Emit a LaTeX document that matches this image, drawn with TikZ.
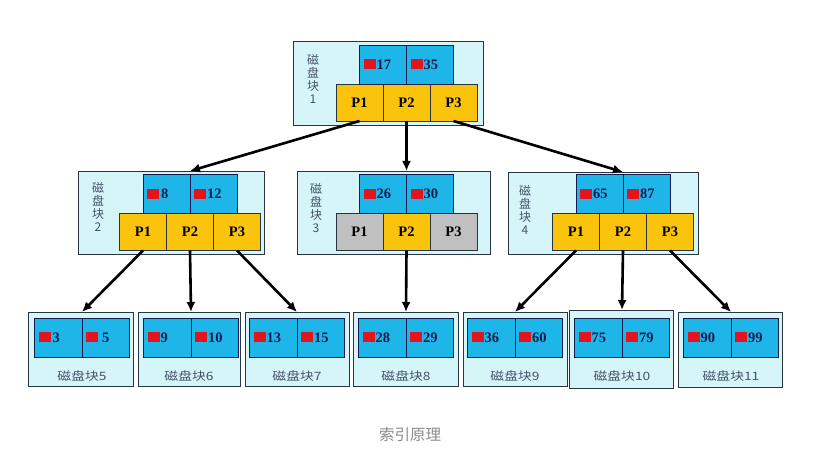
\documentclass[tikz,border=0pt]{standalone}
\usepackage{fontspec}
\setmainfont{Liberation Serif}
\newfontfamily\cjk{Noto Sans CJK SC}
\newfontfamily\cjkwide[FakeStretch=1.2]{Noto Sans CJK SC}
\usepackage{tikz}
\usetikzlibrary{
  calc,%
  arrows.meta,
  positioning
}
\definecolor{blkfill}{RGB}{214,245,249}
\definecolor{keyblue}{RGB}{30,182,232}
\definecolor{pgold}{RGB}{250,196,12}
\definecolor{pgrey}{RGB}{192,192,192}
\definecolor{keyred}{RGB}{226,20,30}
\definecolor{navy}{RGB}{18,28,80}
\definecolor{edge}{RGB}{40,52,64}
\definecolor{lblgrey}{RGB}{70,82,104}
\definecolor{capgrey}{RGB}{140,140,140}
\newcommand{\redkey}[1]{{\color{keyred}\rule{12pt}{10pt}}\hspace{1pt}#1}
\tikzset{>={Latex[length=10pt,width=9pt]}}
\tikzset{
  blk/.style={draw=edge, line width=0.9pt, fill=blkfill, anchor=north west, inner sep=0pt},
  keycell/.style={draw=navy, line width=0.8pt, fill=keyblue, text=navy, outer sep=0pt,
    minimum height=39pt, text width=39pt, inner xsep=4pt, inner ysep=0pt, align=left,
    font=\bfseries\fontsize{14.5}{15}\selectfont},
  leafkey/.style={keycell, text width=39.5pt},
  pcell/.style={draw=edge, line width=0.8pt, fill=pgold, outer sep=0pt,
    minimum width=47pt, minimum height=37pt, inner sep=0pt,
    font=\bfseries\fontsize{14.5}{15}\selectfont},
  pgray/.style={pcell, fill=pgrey},
  vlabel/.style={anchor=north, align=center, inner sep=0pt, text=lblgrey,
    font=\cjk\fontsize{12}{13}\selectfont},
  leaflabel/.style={inner sep=0pt, text=lblgrey, font=\cjkwide\fontsize{11.5}{13}\selectfont},
  link/.style={->, line width=2.6pt},
  caption/.style={inner sep=0pt, text=capgrey, font=\cjk\fontsize{15.5}{17}\selectfont}
}

\begin{document}
\begin{tikzpicture}[x=1pt, y=-1pt]
  \path[fill=white, use as bounding box] (0,0) rectangle (835,457);
  % root block
  \node[blk, minimum width=190pt, minimum height=84pt] (b1) at (293,41) {};
  \node[vlabel] (b1t) at (313,54) {磁\\盘\\块\\1};
  \node[pcell] (b1p2) at (406.5,102.5) {P2};
  \node[pcell, left=0pt of b1p2] (b1p1) {P1};
  \node[pcell, right=0pt of b1p2] (b1p3) {P3};
  \node[keycell, above left=0pt of b1p2.north] (b1k1) {\redkey{17}};
  \node[keycell, above right=0pt of b1p2.north] (b1k2) {\redkey{35}};
  % second level
  \node[blk, minimum width=186pt, minimum height=83pt] (b2) at (78,171) {};
  \node[vlabel] (b2t) at (98,182) {磁\\盘\\块\\2};
  \node[pcell] (b2p2) at (190,232) {P2};
  \node[pcell, left=0pt of b2p2] (b2p1) {P1};
  \node[pcell, right=0pt of b2p2] (b2p3) {P3};
  \node[keycell, above left=0pt of b2p2.north] (b2k1) {\redkey{\hspace{1pt}8}};
  \node[keycell, above right=0pt of b2p2.north] (b2k2) {\redkey{12}};

  \node[blk, minimum width=193pt, minimum height=83pt] (b3) at (297,171) {};
  \node[vlabel] (b3t) at (316,183) {磁\\盘\\块\\3};
  \node[pcell] (b3p2) at (406.5,232) {P2};
  \node[pgray, left=0pt of b3p2] (b3p1) {P1};
  \node[pgray, right=0pt of b3p2] (b3p3) {P3};
  \node[keycell, above left=0pt of b3p2.north] (b3k1) {\redkey{26}};
  \node[keycell, above right=0pt of b3p2.north] (b3k2) {\redkey{30}};

  \node[blk, minimum width=190pt, minimum height=82pt] (b4) at (508,172) {};
  \node[vlabel] (b4t) at (525,185) {磁\\盘\\块\\4};
  \node[pcell] (b4p2) at (623,232) {P2};
  \node[pcell, left=0pt of b4p2] (b4p1) {P1};
  \node[pcell, right=0pt of b4p2] (b4p3) {P3};
  \node[keycell, above left=0pt of b4p2.north] (b4k1) {\redkey{65}};
  \node[keycell, above right=0pt of b4p2.north] (b4k2) {\redkey{87}};
  % leaves
  \node[blk, minimum width=105pt, minimum height=74pt] (l5) at (28,312) {};
  \node[leafkey, anchor=north east] (l5a) at (82,318) {\redkey{\hspace{1pt}3}};
  \node[leafkey, right=0pt of l5a] (l5b) {\redkey{\hspace{3pt}5}};
  \node[leaflabel] (l5t) at (82,376) {磁盘块5};

  \node[blk, minimum width=102pt, minimum height=74pt] (l6) at (138,312) {};
  \node[leafkey, anchor=north east] (l6a) at (191,318) {\redkey{9}};
  \node[leafkey, right=0pt of l6a] (l6b) {\redkey{10}};
  \node[leaflabel] (l6t) at (189,376) {磁盘块6};

  \node[blk, minimum width=104pt, minimum height=74pt] (l7) at (245,312) {};
  \node[leafkey, anchor=north east] (l7a) at (297,318) {\redkey{13}};
  \node[leafkey, right=0pt of l7a] (l7b) {\redkey{15}};
  \node[leaflabel] (l7t) at (297,376) {磁盘块7};

  \node[blk, minimum width=105pt, minimum height=74pt] (l8) at (353,312) {};
  \node[leafkey, anchor=north east] (l8a) at (406,318) {\redkey{28}};
  \node[leafkey, right=0pt of l8a] (l8b) {\redkey{29}};
  \node[leaflabel] (l8t) at (406,376) {磁盘块8};

  \node[blk, minimum width=104pt, minimum height=74pt] (l9) at (463,312) {};
  \node[leafkey, anchor=north east] (l9a) at (515,318) {\redkey{36}};
  \node[leafkey, right=0pt of l9a] (l9b) {\redkey{60}};
  \node[leaflabel] (l9t) at (515,376) {磁盘块9};

  \node[blk, minimum width=104pt, minimum height=78pt] (l10) at (569,310) {};
  \node[leafkey, anchor=north east] (l10a) at (622,318) {\redkey{75}};
  \node[leafkey, right=0pt of l10a] (l10b) {\redkey{79}};
  \node[leaflabel] (l10t) at (622,376) {磁盘块10};

  \node[blk, minimum width=104pt, minimum height=75pt] (l11) at (678,312) {};
  \node[leafkey, anchor=north east] (l11a) at (731,318) {\redkey{90}};
  \node[leafkey, right=0pt of l11a] (l11b) {\redkey{99}};
  \node[leaflabel] (l11t) at (731,376) {磁盘块11};
  % pointers
  \draw[link] (b1p1.south) -- (b2p2 |- b2.north);
  \draw[link] (b1p2.south) -- (b3p2 |- b3.north);
  \draw[link] (b1p3.south) -- (b4p2 |- b4.north);
  \draw[link] (b2p1.south) -- (l5a.east |- l5.north);
  \draw[link] (b2p2.south) -- (l6a.east |- l6.north);
  \draw[link] (b2p3.south) -- (l7a.east |- l7.north);
  \draw[link] (b3p2.south) -- (l8a.east |- l8.north);
  \draw[link] (b4p1.south) -- (l9a.east |- l9.north);
  \draw[link] (b4p2.south) -- (l10a.east |- l10.north);
  \draw[link] (b4p3.south) -- (l11a.east |- l11.north);

  \node[caption] (cap) at (410,435) {索引原理};
\end{tikzpicture}
\end{document}
